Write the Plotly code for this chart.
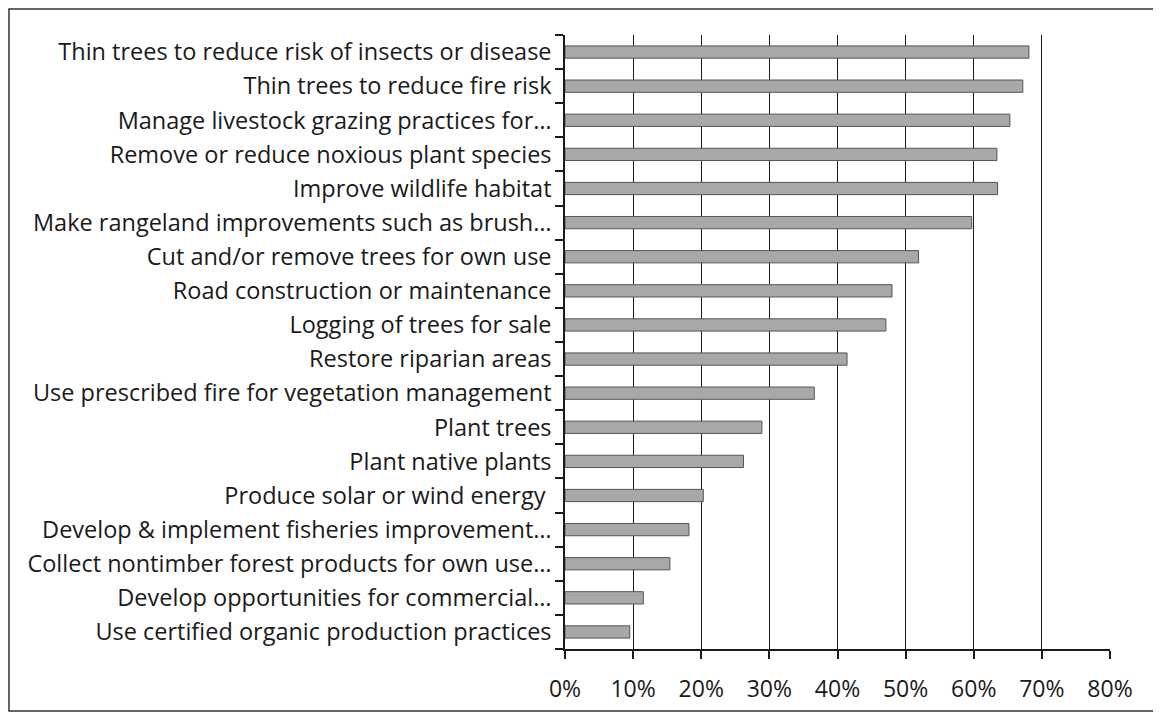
import plotly.graph_objects as go

# categories top-to-bottom as shown in the chart
activities = [
    "Thin trees to reduce risk of insects or disease",
    "Thin trees to reduce fire risk",
    "Manage livestock grazing practices for…",
    "Remove or reduce noxious plant species",
    "Improve wildlife habitat",
    "Make rangeland improvements such as brush…",
    "Cut and/or remove trees for own use",
    "Road construction or maintenance",
    "Logging of trees for sale",
    "Restore riparian areas",
    "Use prescribed fire for vegetation management",
    "Plant trees",
    "Plant native plants",
    "Produce solar or wind energy ",
    "Develop & implement fisheries improvement…",
    "Collect nontimber forest products for own use…",
    "Develop opportunities for commercial…",
    "Use certified organic production practices",
]
share = [0.681, 0.672, 0.653, 0.634, 0.635, 0.597, 0.519, 0.480, 0.471,
         0.414, 0.366, 0.289, 0.262, 0.203, 0.182, 0.154, 0.115, 0.095]

tick_vals = [0, 0.1, 0.2, 0.3, 0.4, 0.5, 0.6, 0.7, 0.8]
tick_text = ["0%", "10%", "20%", "30%", "40%", "50%", "60%", "70%", "80%"]

# page body has an 8px margin, so the figure is sized to fit the window
OFF = 8
W, H = 1161 - OFF, 712 - OFF
L, T = 565 - OFF, 35 - OFF
R = W - L - 545
B = H - T - 614

fig = go.Figure(go.Bar(
    x=share[::-1], y=activities[::-1], orientation="h",
    width=0.36,
    marker=dict(color="#a8a8a8", line=dict(color="#555555", width=1)),
))

fig.update_layout(
    width=W, height=H,
    margin=dict(l=L, r=R, t=T, b=B),
    paper_bgcolor="white", plot_bgcolor="white",
    font=dict(family="Open Sans, sans-serif", size=23.5, color="#1a1a1a"),
    showlegend=False,
)

fig.update_xaxes(
    range=[0, 0.8], tickvals=tick_vals, ticktext=tick_text,
    tickfont=dict(size=23), automargin=False,
    showgrid=True, gridcolor="#1a1a1a", gridwidth=1.3,
    showline=True, linecolor="#1a1a1a", linewidth=1.5,
    ticks="outside", ticklen=8, tickcolor="#1a1a1a", tickwidth=1.5,
    ticklabelstandoff=11, zeroline=False, fixedrange=True,
)
fig.update_yaxes(
    automargin=False,
    showgrid=False, showline=True, linecolor="#1a1a1a", linewidth=1.5,
    ticks="outside", tickson="boundaries", ticklen=8,
    tickcolor="#1a1a1a", tickwidth=1.5, ticklabelstandoff=7,
    fixedrange=True,
)

# scanned-page border around the whole chart
pw, ph = W - L - R, H - T - B
fig.add_shape(
    type="rect", xref="paper", yref="paper",
    x0=(1 - L) / pw, x1=(1157 - OFF - L) / pw,
    y0=(H - B - (711 - OFF)) / ph, y1=(H - B - 1) / ph,
    line=dict(color="#333333", width=1.5), fillcolor="rgba(0,0,0,0)",
    layer="below",
)

fig.write_html("out.html")
